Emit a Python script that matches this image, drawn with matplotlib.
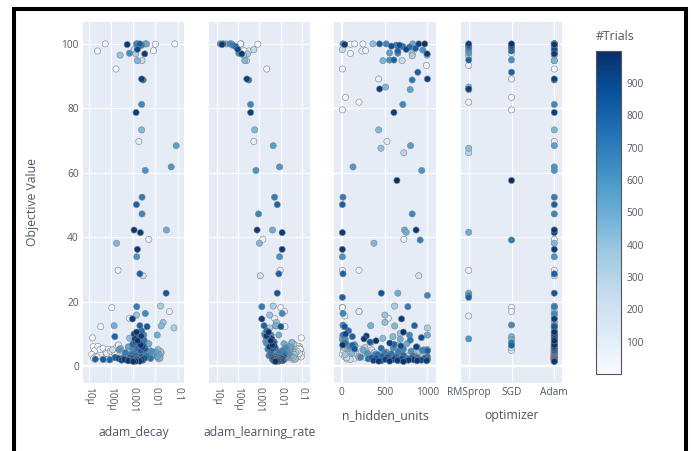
import matplotlib
matplotlib.use("Agg")
import matplotlib.pyplot as plt
import pandas as pd
from matplotlib.patches import Rectangle

plt.rcParams['font.family'] = ['Open Sans', 'DejaVu Sans']

# adam trials: (number, objective value, n_hidden_units, adam_decay, adam_learning_rate)
adam_trials = [
    # diverged trials near 100
    (600, 100.0, 15, 1.55e-3, 1.5e-5), (820, 100.0, 442, 2.0e-3, 2.0e-5),
    (420, 100.0, 364, 4.0e-3, 2.9e-5), (660, 100.0, 519, 1.4e-3, 4.2e-5),
    (700, 99.6, 636, 2.4e-3, 5.8e-5), (760, 99.2, 713, 1.8e-3, 7.8e-5),
    (900, 98.3, 752, 1.55e-3, 9.8e-5), (40, 100.0, 151, 5.6e-5, 1.3e-4),
    (640, 97.1, 655, 6.8e-4, 1.1e-4), (950, 96.9, 996, 3.3e-3, 1.5e-4),
    (60, 97.9, 279, 8.1e-3, 1.9e-4), (50, 97.8, 236, 2.5e-5, 3.2e-4),
    (260, 98.2, 8, 1.1e-3, 5.5e-4), (30, 99.9, 101, 1.0e-2, 8.5e-4),
    (470, 94.8, 481, 1.55e-3, 2.1e-4), (35, 92.2, 8, 1.7e-4, 2.2e-3),
    (960, 99.8, 35, 5.4e-4, 1.8e-5), (400, 96.5, 996, 2.6e-4, 1.8e-4),
    (240, 94.8, 705, 2.5e-3, 2.5e-4), (20, 100.0, 248, 7.4e-2, 1.4e-4),
    (520, 100.0, 829, 3.5e-3, 5.0e-5), (350, 96.9, 822, 1.3e-3, 2.8e-4),
    # upper scattered trials
    (940, 89.1, 1000, 2.4e-3, 2.6e-4), (720, 88.8, 822, 2.8e-3, 3.2e-4),
    (650, 81.2, 713, 2.4e-3, 3.9e-4), (945, 78.7, 609, 1.35e-3, 3.9e-4),
    (450, 73.3, 431, 2.4e-3, 6.0e-4), (100, 69.7, 528, 1.8e-3, 5.5e-4),
    (560, 68.4, 803, 8.5e-2, 4.4e-3), (600, 61.8, 132, 5.1e-2, 8.7e-3),
    (610, 60.7, 934, 3.5e-3, 6.9e-4), (700, 52.4, 15, 2.5e-3, 5.1e-3),
    (800, 50.1, 8, 1.4e-3, 6.8e-3), (660, 47.2, 822, 2.5e-3, 9.1e-4),
    (955, 42.2, 868, 1.1e-3, 7.8e-4), (950, 41.4, 8, 2.1e-3, 1.15e-2),
    (500, 42.2, 733, 3.1e-2, 4.1e-3), (80, 39.3, 725, 5.0e-3, 1.45e-3),
    (455, 38.1, 376, 1.8e-4, 1.0e-3), (960, 36.2, 8, 1.55e-3, 1.15e-2),
    (610, 33.9, 8, 1.45e-3, 8.7e-3), (70, 29.7, 8, 2.1e-4, 9.3e-3),
    (800, 28.6, 15, 2.0e-3, 8.1e-3), (200, 28.0, 899, 2.8e-3, 1.1e-3),
    (850, 22.6, 462, 3.0e-2, 6.8e-3),
    # 9 .. 20
    (350, 18.6, 617, 1.7e-2, 4.4e-3), (60, 18.1, 8, 1.1e-4, 1.0e-2),
    (700, 18.4, 772, 1.45e-3, 1.3e-3), (80, 16.9, 202, 4.2e-2, 1.45e-2),
    (650, 16.3, 15, 3.5e-3, 1.15e-2), (400, 15.8, 504, 1.4e-3, 3.0e-3),
    (410, 13.5, 504, 2.2e-2, 6.2e-3), (100, 14.8, 543, 6.8e-4, 5.1e-3),
    (950, 14.6, 698, 9.3e-4, 1.3e-3), (50, 12.2, 20, 3.5e-5, 1.55e-2),
    (480, 12.5, 338, 1.4e-4, 5.8e-3), (800, 12.5, 849, 2.0e-3, 1.65e-3),
    (850, 12.2, 35, 4.2e-3, 1.0e-2), (450, 12.4, 617, 1.8e-2, 5.8e-3),
    (340, 11.8, 1000, 6.8e-2, 3.0e-3), (400, 10.1, 683, 2.6e-3, 1.8e-3),
    (800, 9.1, 124, 1.5e-4, 2.6e-3), (950, 9.3, 287, 2.3e-3, 2.1e-3),
    (650, 9.6, 791, 3.0e-3, 3.5e-3), (500, 9.6, 1000, 1.2e-2, 8.0e-3),
    (700, 9.6, 15, 2.0e-3, 1.8e-3),
    # early random trials at the bottom
    (5, 8.7, 8, 1.5e-5, 9.0e-2), (8, 6.0, 20, 1.6e-5, 7.5e-2),
    (12, 4.8, 43, 1.9e-5, 8.5e-2), (15, 6.1, 93, 2.6e-5, 6.0e-2),
    (18, 5.1, 130, 3.3e-5, 5.2e-2), (22, 5.5, 171, 4.5e-5, 7.0e-2),
    (25, 3.6, 8, 1.4e-5, 9.5e-2), (28, 2.9, 35, 2.0e-5, 6.5e-2),
    (32, 4.2, 60, 6.0e-5, 4.5e-2), (37, 5.2, 210, 8.0e-5, 8.0e-2),
    (42, 3.3, 110, 1.1e-4, 5.5e-2), (45, 2.4, 150, 1.7e-5, 4.0e-2),
    (55, 4.0, 248, 1.4e-4, 3.5e-2), (65, 2.8, 80, 2.4e-5, 8.8e-2),
    (75, 5.8, 20, 1.8e-4, 3.0e-2), (85, 3.0, 190, 3.0e-4, 6.2e-2),
    (95, 2.2, 60, 5.0e-5, 4.8e-2), (110, 6.5, 15, 2.2e-4, 2.6e-2),
    (130, 3.9, 140, 6.5e-5, 7.2e-2), (150, 2.6, 280, 3.8e-4, 3.2e-2),
    (170, 4.6, 230, 9.5e-5, 5.8e-2), (190, 3.4, 300, 4.5e-4, 4.2e-2),
    (210, 2.0, 100, 7.5e-5, 3.8e-2), (230, 5.0, 350, 1.2e-4, 2.8e-2),
    (260, 2.5, 60, 3.2e-4, 2.4e-2),
    # middle trials
    (640, 5.6, 600, 2.1e-3, 1.7e-2), (630, 6.1, 90, 1.5e-3, 3.5e-3),
    (620, 4.6, 810, 6.5e-3, 1.9e-2), (610, 7.0, 50, 1.1e-3, 2.2e-3),
    (600, 3.9, 300, 4.8e-3, 2.1e-2), (590, 5.0, 960, 2.4e-4, 1.6e-2),
    (580, 6.6, 150, 1.8e-3, 4.0e-3), (570, 3.4, 700, 8.0e-3, 2.3e-2),
    (560, 7.6, 30, 3.0e-3, 2.0e-3), (550, 4.3, 520, 1.0e-2, 1.8e-2),
    (540, 5.9, 880, 6.0e-4, 2.7e-2), (530, 8.1, 10, 1.3e-3, 3.0e-3),
    (520, 2.9, 430, 1.2e-2, 2.0e-2), (510, 4.9, 250, 3.5e-3, 2.5e-2),
    (500, 6.9, 760, 5.0e-3, 1.4e-2), (490, 3.7, 990, 1.4e-2, 2.2e-2),
    (480, 5.4, 70, 2.7e-4, 2.9e-2), (470, 2.4, 610, 1.6e-2, 1.7e-2),
    (460, 7.3, 340, 2.4e-3, 3.3e-2), (450, 4.0, 120, 9.0e-3, 2.6e-2),
    (440, 3.1, 850, 1.1e-2, 3.0e-2), (430, 8.6, 480, 7.0e-4, 2.1e-3),
    (420, 5.1, 1000, 1.3e-2, 2.4e-2), (410, 2.7, 200, 1.5e-2, 3.8e-2),
    (395, 6.3, 650, 3.2e-3, 2.8e-2), (380, 3.6, 40, 1.0e-2, 4.2e-2),
    (365, 4.5, 900, 1.7e-2, 3.6e-2), (350, 2.2, 540, 1.4e-2, 4.6e-2),
    (335, 5.7, 270, 4.5e-3, 3.1e-2), (320, 3.2, 780, 1.6e-2, 2.7e-2),
    (305, 6.8, 20, 2.2e-3, 4.0e-2), (290, 4.1, 380, 1.8e-2, 5.0e-2),
    (275, 2.5, 930, 1.3e-2, 3.4e-2),
    # late trials, upper part of the cluster
    (990, 7.8, 400, 1.6e-3, 3.4e-3), (985, 10.5, 720, 1.4e-3, 2.7e-3),
    (978, 6.5, 12, 2.2e-3, 4.0e-3), (962, 8.4, 260, 1.2e-3, 3.8e-3),
    (948, 5.9, 870, 2.6e-3, 2.9e-3), (934, 7.1, 560, 1.9e-3, 4.4e-3),
    (915, 9.9, 45, 1.1e-3, 2.4e-3), (898, 6.2, 690, 2.9e-3, 5.0e-3),
    (876, 8.8, 930, 1.7e-3, 3.1e-3), (854, 5.3, 150, 3.4e-3, 3.9e-3),
    (832, 7.4, 330, 1.3e-3, 4.9e-3), (810, 4.7, 1000, 2.1e-3, 3.7e-3),
    (786, 6.7, 610, 9.5e-4, 4.3e-3), (764, 10.9, 80, 2.4e-3, 2.2e-3),
    (742, 5.5, 460, 1.5e-3, 5.6e-3), (720, 8.0, 800, 3.1e-3, 3.3e-3),
    # late trials, best values
    (980, 1.4, 720, 1.0e-3, 5.5e-3), (975, 1.5, 560, 1.3e-3, 6.5e-3),
    (970, 1.6, 880, 6.0e-4, 7.0e-3), (965, 1.5, 430, 2.0e-3, 8.0e-3),
    (958, 1.7, 650, 8.0e-4, 6.0e-3), (952, 1.8, 780, 1.6e-3, 9.0e-3),
    (945, 1.6, 990, 1.1e-3, 5.0e-3), (938, 2.0, 510, 4.0e-4, 7.5e-3),
    (930, 1.9, 840, 2.5e-3, 6.8e-3), (925, 1.7, 370, 7.0e-4, 1.1e-2),
    (918, 2.1, 610, 1.4e-3, 4.5e-3), (910, 1.8, 930, 3.0e-4, 8.5e-3),
    (902, 2.2, 700, 9.0e-4, 1.2e-2), (895, 1.6, 460, 1.8e-3, 5.8e-3),
    (888, 2.3, 820, 2.2e-4, 6.2e-3), (880, 2.0, 590, 1.2e-3, 9.5e-3),
    (872, 1.9, 1000, 5.0e-4, 4.2e-3), (865, 2.4, 400, 3.2e-3, 7.2e-3),
    (858, 1.7, 740, 6.5e-4, 1.3e-2), (850, 2.2, 960, 1.5e-3, 5.2e-3),
    (842, 2.6, 530, 1.6e-4, 8.8e-3), (835, 1.8, 680, 2.8e-3, 6.6e-3),
    (828, 2.5, 350, 1.0e-3, 4.0e-3), (820, 2.0, 900, 4.5e-5, 7.8e-3),
    (812, 2.7, 620, 7.5e-4, 1.0e-2), (805, 2.1, 780, 2.0e-5, 6.0e-3),
    (798, 2.9, 470, 2.3e-3, 5.5e-3), (790, 1.9, 860, 9.0e-5, 8.2e-3),
    (782, 3.1, 550, 1.3e-3, 1.4e-2), (775, 2.4, 990, 3.5e-4, 4.6e-3),
    (768, 3.3, 720, 1.9e-3, 3.6e-3), (760, 2.2, 310, 5.5e-4, 9.8e-3),
    (752, 3.0, 640, 4.0e-3, 7.0e-3), (745, 2.6, 880, 1.5e-4, 1.1e-2),
    (738, 3.6, 420, 8.5e-4, 3.2e-3), (730, 2.3, 760, 6.0e-3, 6.3e-3),
    (722, 3.8, 580, 1.1e-3, 1.5e-2), (715, 2.8, 1000, 2.6e-3, 4.8e-3),
    (708, 4.1, 500, 4.5e-4, 8.6e-3), (700, 3.2, 830, 1.7e-3, 2.8e-3),
    (692, 4.4, 660, 2.9e-3, 1.0e-2), (685, 3.5, 390, 7.0e-4, 6.7e-3),
    (678, 4.8, 940, 1.3e-3, 1.2e-2), (670, 2.7, 220, 3.8e-3, 5.4e-3),
    (662, 5.2, 720, 9.5e-4, 2.5e-3),
]

# (number, objective value, n_hidden_units)
rmsprop_trials = [
    (930, 100.0, 899), (880, 99.6, 674), (760, 99.0, 791), (620, 98.1, 946),
    (560, 97.2, 558), (350, 96.3, 822), (800, 95.0, 609), (70, 93.3, 988),
    (450, 86.6, 512), (550, 85.8, 799), (950, 86.0, 442), (30, 81.9, 202),
    (420, 67.6, 458), (300, 66.2, 725), (500, 41.5, 752), (60, 29.7, 202),
    (500, 22.6, 655), (650, 21.9, 1000), (800, 21.3, 8), (90, 15.5, 35),
    (600, 8.4, 40),
]

sgd_trials = [
    (980, 100.0, 968), (870, 99.3, 580), (820, 98.6, 860), (800, 97.8, 655),
    (40, 97.0, 101), (620, 95.0, 558), (800, 91.2, 888), (80, 89.1, 431),
    (40, 83.4, 43), (20, 79.5, 8), (999, 57.6, 644), (700, 39.1, 915),
    (50, 18.2, 8), (70, 16.9, 202), (650, 12.7, 15), (450, 9.1, 598),
    (500, 8.3, 683), (750, 7.1, 40), (800, 6.4, 124), (200, 5.6, 35),
    (60, 4.8, 20),
]

optimizers = ["RMSprop", "SGD", "Adam"]
log_ticks = [1e-5, 1e-4, 1e-3, 1e-2, 1e-1]
log_ticklabels = ["10µ", "100µ", "0.001", "0.01", "0.1"]
hidden_ticks = [0, 500, 1000]
value_ticks = [0, 20, 40, 60, 80, 100]
trial_ticks = [100, 200, 300, 400, 500, 600, 700, 800, 900]

adam = pd.DataFrame(adam_trials, columns=["number", "value", "n_hidden_units",
                                          "adam_decay", "adam_learning_rate"])
adam["optimizer"] = "Adam"
rms = pd.DataFrame(rmsprop_trials, columns=["number", "value", "n_hidden_units"])
rms["optimizer"] = "RMSprop"
sgd = pd.DataFrame(sgd_trials, columns=["number", "value", "n_hidden_units"])
sgd["optimizer"] = "SGD"
df = pd.concat([adam, rms, sgd], ignore_index=True).sort_values("number", kind="stable")
adam_df = df[df["optimizer"] == "Adam"]

W, H = 693, 451
TXT = "#4f5666"
BG = "#E5ECF6"


def px_rect(x0, y0, x1, y1):
    return [x0 / W, 1 - y1 / H, (x1 - x0) / W, (y1 - y0) / H]


fig = plt.figure(figsize=(W / 100, H / 100), dpi=100)

panels = [
    ("adam_decay", px_rect(83, 22, 184, 383)),
    ("adam_learning_rate", px_rect(209, 22, 310, 383)),
    ("n_hidden_units", px_rect(334, 22, 436, 383)),
    ("optimizer", px_rect(461, 22, 562, 383)),
]

sc = None
for i, (name, rect) in enumerate(panels):
    ax = fig.add_axes(rect)
    ax.set_facecolor(BG)
    for sp in ax.spines.values():
        sp.set_visible(False)
    ax.set_axisbelow(True)
    ax.grid(True, color="white", lw=0.8)
    ax.axhline(0, color="white", lw=1.6, zorder=0.5)

    if name in ("adam_decay", "adam_learning_rate"):
        data = adam_df
        xs = data[name]
        ax.set_xscale("log")
        ax.set_xticks(log_ticks)
        ax.set_xticklabels(log_ticklabels, rotation=270, va="top", ha="center")
        ax.minorticks_off()
        if name == "adam_decay":
            ax.set_xlim(10 ** -5.25, 10 ** -0.72)
        else:
            ax.set_xlim(10 ** -5.35, 10 ** -0.64)
        label_y = -0.1385
    elif name == "n_hidden_units":
        data = df
        xs = data[name]
        ax.set_xticks(hidden_ticks)
        ax.set_xlim(-90, 1100)
        ax.axvline(0, color="white", lw=1.6, zorder=0.5)
        label_y = -0.0914
    else:
        data = df
        xs = data["optimizer"].map({o: k for k, o in enumerate(optimizers)})
        ax.set_xticks(range(len(optimizers)))
        ax.set_xticklabels(optimizers)
        ax.set_xlim(-0.18, 2.18)
        label_y = -0.0914

    sc = ax.scatter(xs, data["value"], c=data["number"], cmap="Blues",
                    vmin=0, vmax=999, s=20, edgecolors="grey", linewidths=0.4,
                    zorder=3)

    ax.set_ylim(-5.3, 106.8)
    ax.set_yticks(value_ticks)
    ax.tick_params(length=0, labelsize=7.3, colors=TXT, pad=3)
    if i == 0:
        ax.set_ylabel("Objective Value", fontsize=8.8, color=TXT)
        ax.yaxis.set_label_coords(-0.436, 0.5)
    else:
        ax.set_yticklabels([])
    ax.set_xlabel(name, fontsize=8.8, color=TXT, va="center")
    ax.xaxis.set_label_coords(0.5, label_y)

cax = fig.add_axes(px_rect(596, 51, 621, 374))
cb = fig.colorbar(sc, cax=cax, ticks=trial_ticks)
cb.outline.set_edgecolor("#555555")
cb.outline.set_linewidth(0.8)
cax.tick_params(length=0, labelsize=7.3, colors=TXT, pad=4)
fig.text(596 / W, 1 - 37 / H, "#Trials", fontsize=8.8, color=TXT,
         ha="left", va="center")

# screenshot frame
fig.add_artist(Rectangle((13.8 / W, -0.05), (685.5 - 13.8) / W, 1.05 - 8.7 / H,
                         transform=fig.transFigure, fill=False,
                         edgecolor="black", lw=2.9, zorder=10))

fig.savefig("out.png", dpi=100)
